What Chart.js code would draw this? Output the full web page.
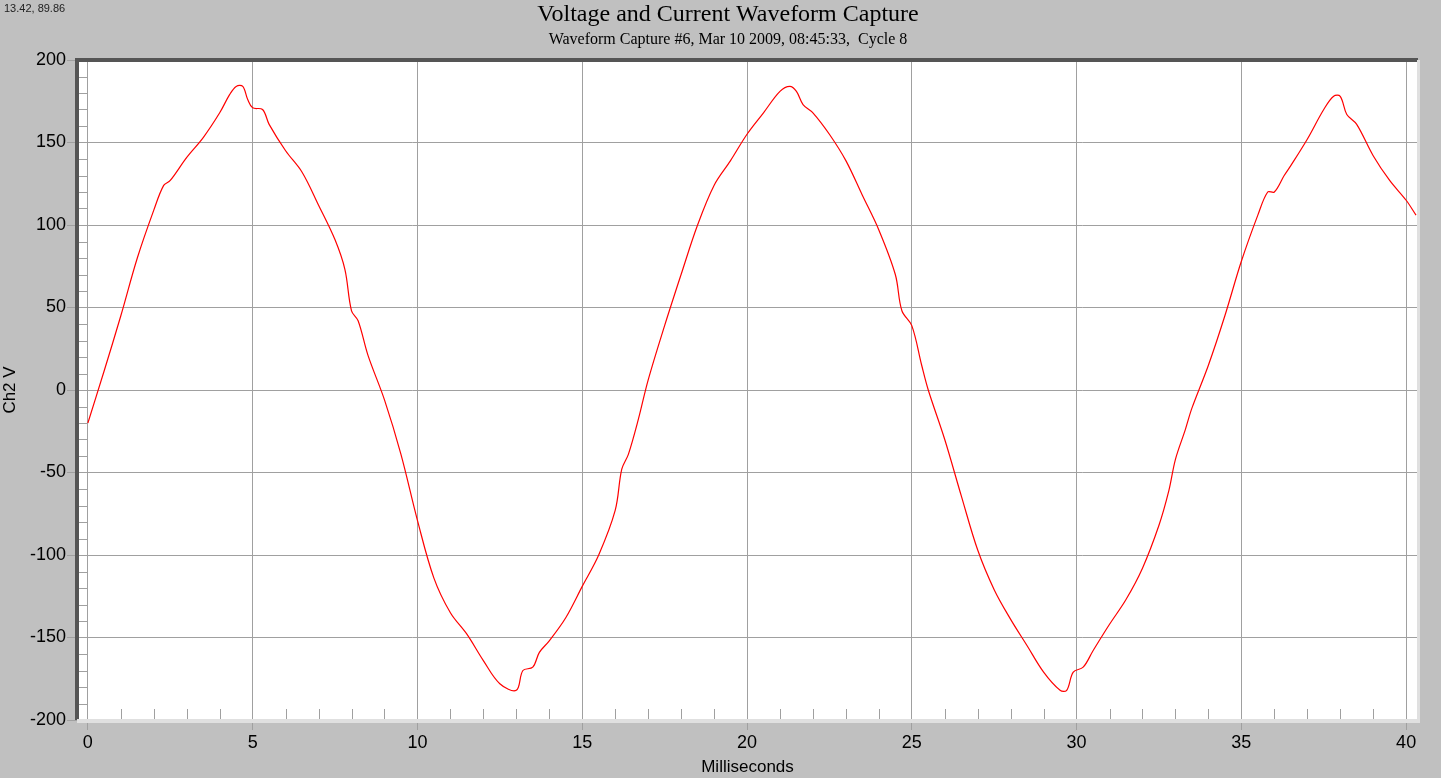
<!DOCTYPE html>
<html><head><meta charset="utf-8">
<script src="https://cdn.jsdelivr.net/npm/chart.js@4/dist/chart.umd.min.js"></script>
<style>html,body{margin:0;padding:0;background:#c0c0c0;}#wrap{width:1441px;height:778px;}</style>
</head><body><div id="wrap"><canvas id="c"></canvas></div>
<script>
const times = [0,0.5,1,1.5,2,2.3,2.5,3,3.5,4,4.3,4.5,4.7,4.85,5,5.3,5.5,6,6.5,7,7.5,7.8,8,8.2,8.5,9,9.5,10,10.5,11,11.5,12,12.5,13,13.2,13.5,13.7,14,14.5,15,15.5,16,16.2,16.4,16.7,17,17.5,18,18.5,19,19.5,20,20.5,21,21.3,21.5,21.7,22,22.5,23,23.5,24,24.5,24.7,25,25.3,25.5,26,26.5,27,27.5,28,28.5,29,29.5,29.7,29.9,30.2,30.5,31,31.5,32,32.5,32.8,33,33.3,33.5,34,34.5,35,35.5,35.8,36,36.3,36.5,37,37.5,37.8,38,38.2,38.5,39,39.5,40,40.3];
const volts = [-20,12,45,80,109,124,127,141,153,168,179,184,184,176,171,170,161,145,132,112,91,73,48,42,21,-6,-39,-79,-114,-135,-148,-164,-178,-182,-170,-168,-159,-152,-138,-119,-100,-73,-48,-39,-18,6,39,70,100,124,139,155,168,181,184,181,173,168,155,139,118,97,70,48,39,15,0,-30,-64,-97,-121,-139,-155,-171,-182,-182,-171,-168,-158,-142,-127,-108,-82,-61,-42,-24,-11,15,45,78,106,120,120,130,136,152,170,178,178,167,161,142,127,115,106];
const xTicks = [0,5,10,15,20,25,30,35,40];
const yTicks = [-200,-150,-100,-50,0,50,100,150,200];
const titleText = "Voltage and Current Waveform Capture";
const subtitleText = "Waveform Capture #6, Mar 10 2009, 08:45:33,  Cycle 8";
const cornerText = "13.42, 89.86";

const deco = {
  id:'deco',
  beforeDraw(ch){
    const c=ch.ctx,a=ch.chartArea;
    c.save();c.fillStyle='#c0c0c0';c.fillRect(0,0,ch.width,ch.height);
    c.fillStyle='#fff';c.fillRect(a.left,a.top,a.right-a.left,a.bottom-a.top);c.restore();
  },
  afterDraw(ch){
    const c=ch.ctx,a=ch.chartArea,xs=ch.scales.x,ys=ch.scales.y;
    c.save();
    c.strokeStyle='#a0a0a0';c.lineWidth=1;
    for(let t=1;t<=40;t++){ if(t%5===0)continue; const px=Math.round(xs.getPixelForValue(t))+0.5;
      c.beginPath();c.moveTo(px,a.bottom);c.lineTo(px,a.bottom-11);c.stroke();}
    for(let v=-190;v<200;v+=10){ if(v%50===0)continue; const py=Math.round(ys.getPixelForValue(v))+0.5;
      c.beginPath();c.moveTo(a.left,py);c.lineTo(a.left+10,py);c.stroke();}
    c.fillStyle='#555';c.fillRect(a.left-2,a.top-2,a.right-a.left+2,4);c.fillRect(a.left-2,a.top-2,4,a.bottom-a.top+2);
    c.fillStyle='#e0e0e0';c.fillRect(a.left,a.bottom-1,a.right-a.left+2,4);c.fillRect(a.right-1,a.top,3,a.bottom-a.top+2);
    c.fillStyle='#000';c.textAlign='center';c.textBaseline='middle';
    c.font='24px "Liberation Serif"';c.fillText(titleText,728,15);
    c.font='16px "Liberation Serif"';c.fillText(subtitleText,728,40);
    c.textAlign='left';c.font='11px "Liberation Sans"';c.fillStyle='#222';c.fillText(cornerText,4,9);
    c.restore();
  }
};

new Chart(document.getElementById('c'),{
  type:'line',
  data:{datasets:[{data:times.map((t,i)=>({x:t,y:volts[i]})),borderColor:'#ff0000',borderWidth:1.2,pointRadius:0,tension:0.35,fill:false}]},
  options:{responsive:true,maintainAspectRatio:false,animation:false,devicePixelRatio:1,
    layout:{padding:{top:60,right:23,left:0,bottom:0}},
    plugins:{legend:{display:false},tooltip:{enabled:false}},
    scales:{
      x:{type:'linear',min:-0.33,max:40.36,
        afterBuildTicks(s){s.ticks=xTicks.map(v=>({value:v}));},
        afterFit(s){s.height=58;},
        grid:{color:'#a0a0a0',tickLength:10,drawTicks:true},border:{display:false},
        ticks:{color:'#000',font:{family:'Liberation Sans',size:18},padding:2,maxRotation:0},
        title:{display:true,text:'Milliseconds',color:'#000',font:{family:'Liberation Sans',size:17},padding:{top:0,bottom:0}}},
      y:{min:-200,max:200,
        afterBuildTicks(s){s.ticks=yTicks.map(v=>({value:v}));},
        afterFit(s){s.width=77;},
        grid:{color:'#a0a0a0',tickLength:10,drawTicks:true},border:{display:false},
        ticks:{color:'#000',font:{family:'Liberation Sans',size:18},padding:1},
        title:{display:true,text:'Ch2 V',color:'#000',font:{family:'Liberation Sans',size:17},padding:{top:0,bottom:2}}}
    }},
  plugins:[deco]
});
</script></body></html>
